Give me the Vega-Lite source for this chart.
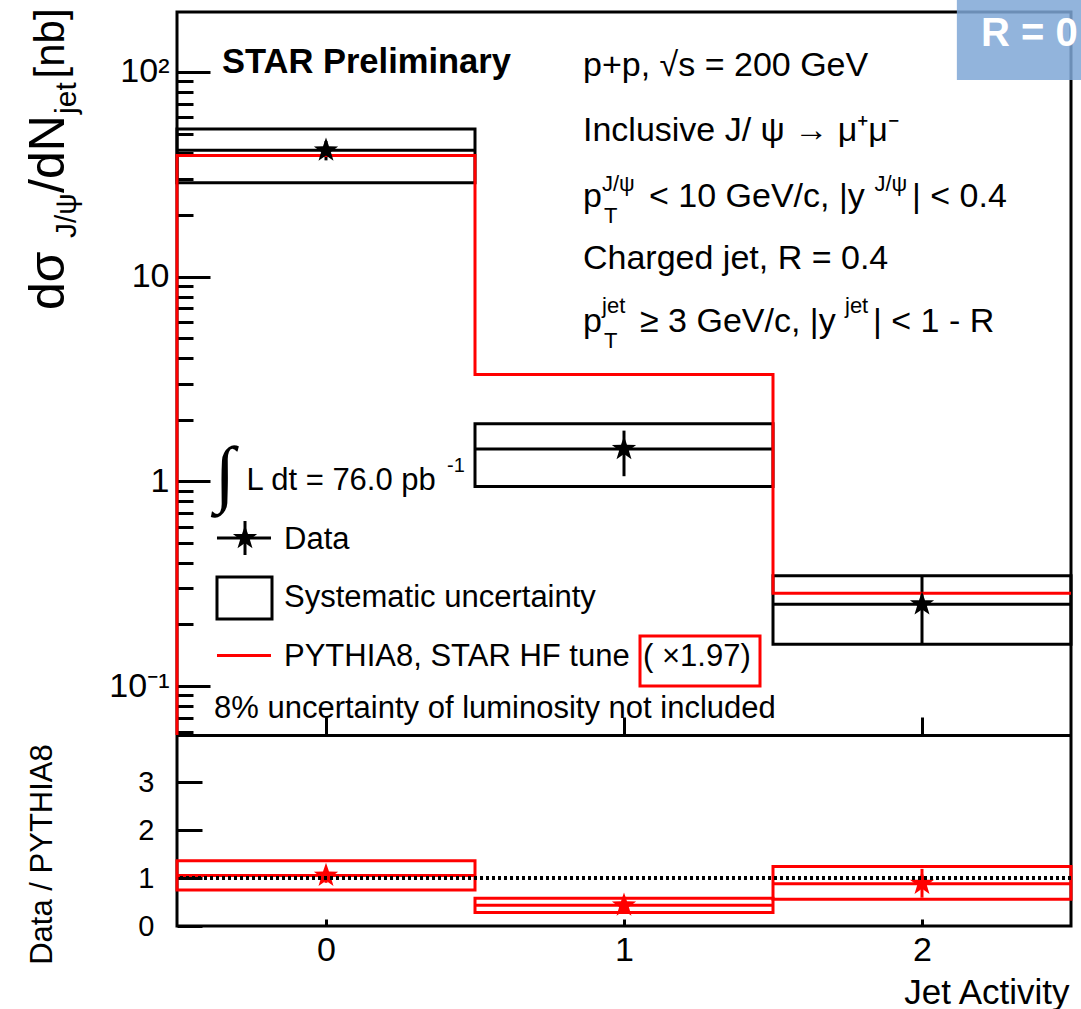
{
  "$schema": "https://vega.github.io/schema/vega-lite/v6.json",
  "width": 894,
  "height": 914,
  "autosize": "none",
  "padding": {"left": 177, "top": 12, "right": 10, "bottom": 83},
  "background": "white",
  "config": {
    "view": {"stroke": "black", "strokeWidth": 3},
    "font": "Liberation Sans",
    "axis": {"labelFont": "Liberation Sans", "titleFont": "Liberation Sans", "labelColor": "black", "titleColor": "black", "tickColor": "black", "domainColor": "black", "grid": false}
  },
  "datasets": {
    "bins": [
      {"bin": 0, "lo": -0.5, "hi": 0.5, "val": 41.4, "statLo": 37, "statHi": 46, "sysLo": 28.8, "sysHi": 52.6, "ratio": 1.05, "rStatLo": 0.9, "rStatHi": 1.18, "rSysLo": 0.75, "rSysHi": 1.36},
      {"bin": 1, "lo": 0.5, "hi": 1.5, "val": 1.44, "statLo": 1.06, "statHi": 1.77, "sysLo": 0.944, "sysHi": 1.91, "ratio": 0.43, "rStatLo": 0.31, "rStatHi": 0.53, "rSysLo": 0.28, "rSysHi": 0.58},
      {"bin": 2, "lo": 1.5, "hi": 2.5, "val": 0.251, "statLo": 0.16, "statHi": 0.346, "sysLo": 0.16, "sysHi": 0.346, "ratio": 0.88, "rStatLo": 0.59, "rStatHi": 1.19, "rSysLo": 0.56, "rSysHi": 1.24}
    ],
    "pythia": [
      {"i": 0, "x": -0.5, "y": 0.0577},
      {"i": 1, "x": -0.5, "y": 39.1},
      {"i": 2, "x": 0.5, "y": 3.33},
      {"i": 3, "x": 1.5, "y": 0.284},
      {"i": 4, "x": 2.5, "y": 0.284}
    ]
  },
  "resolve": {"scale": {"y": "independent"}, "axis": {"x": "independent", "y": "independent"}},
  "layer": [
    {
      "resolve": {"axis": {"x": "independent", "y": "independent"}},
      "layer": [
        {
          "data": {"name": "bins"},
          "mark": {"type": "rect", "fillOpacity": 0, "stroke": "black", "strokeWidth": 3},
          "encoding": {
            "x": {"field": "lo", "type": "quantitative", "scale": {"domain": [-0.5, 2.5], "nice": false, "zero": false},
              "axis": {"orient": "bottom", "offset": -191, "values": [0, 1, 2], "tickSize": -18, "tickWidth": 3, "labels": false, "domain": true, "domainWidth": 3, "title": null}},
            "x2": {"field": "hi"},
            "y": {"field": "sysLo", "type": "quantitative",
              "scale": {"type": "log", "domain": [0.0577, 196.3], "range": [723, 0], "nice": false, "zero": false},
              "axis": {"orient": "left", "title": null,
                "values": [0.1, 1, 10, 100],
                "labelExpr": "datum.value == 100 ? '10²' : datum.value == 10 ? '10' : datum.value == 1 ? '1' : '10⁻¹'",
                "tickSize": -33, "labelPadding": 41, "labelFontSize": 34, "tickWidth": 3, "domain": false, "labelOverlap": false, "labelBound": false, "labelFlush": false}},
            "y2": {"field": "sysHi"}
          }
        },
        {
          "data": {"name": "bins"},
          "mark": {"type": "rule", "color": "black", "strokeWidth": 3},
          "encoding": {
            "x": {"field": "lo", "type": "quantitative", "axis": null},
            "x2": {"field": "hi"},
            "y": {"field": "val", "type": "quantitative",
              "axis": {"orient": "left", "title": null,
                "values": [0.06, 0.07, 0.08, 0.09, 0.2, 0.3, 0.4, 0.5, 0.6, 0.7, 0.8, 0.9, 2, 3, 4, 5, 6, 7, 8, 9, 20, 30, 40, 50, 60, 70, 80, 90],
                "labels": false, "tickSize": -16, "tickWidth": 3, "domain": false}}
          }
        },
        {
          "data": {"name": "bins"},
          "mark": {"type": "rule", "color": "black", "strokeWidth": 3},
          "encoding": {
            "x": {"field": "bin", "type": "quantitative", "axis": null},
            "y": {"field": "statLo", "type": "quantitative", "axis": null},
            "y2": {"field": "statHi"}
          }
        },
        {
          "data": {"name": "pythia"},
          "mark": {"type": "line", "color": "#ff0000", "strokeWidth": 3, "interpolate": "step-after"},
          "encoding": {
            "x": {"field": "x", "type": "quantitative", "axis": null},
            "y": {"field": "y", "type": "quantitative", "axis": null},
            "order": {"field": "i", "type": "quantitative"}
          }
        },
        {
          "data": {"name": "bins"},
          "mark": {"type": "point", "shape": "M0,-1L0.235,-0.324L0.951,-0.309L0.38,0.124L0.588,0.809L0,0.4L-0.588,0.809L-0.38,0.124L-0.951,-0.309L-0.235,-0.324Z", "filled": true, "color": "black", "size": 650, "opacity": 1},
          "encoding": {
            "x": {"field": "bin", "type": "quantitative", "axis": null},
            "y": {"field": "val", "type": "quantitative", "axis": null}
          }
        },
        {
          "data": {"values": [{"x": -0.3658, "x2": -0.1812, "y": 0.2127, "y2": 0.3412}]},
          "mark": {"type": "rect", "fillOpacity": 0, "stroke": "black", "strokeWidth": 3},
          "encoding": {
            "x": {"field": "x", "type": "quantitative", "axis": null}, "x2": {"field": "x2"},
            "y": {"field": "y", "type": "quantitative", "axis": null}, "y2": {"field": "y2"}
          }
        },
        {
          "data": {"values": [{"x": 1.0537, "x2": 1.4564, "y": 0.1001, "y2": 0.1757}]},
          "mark": {"type": "rect", "fillOpacity": 0, "stroke": "#ff0000", "strokeWidth": 3},
          "encoding": {
            "x": {"field": "x", "type": "quantitative", "axis": null}, "x2": {"field": "x2"},
            "y": {"field": "y", "type": "quantitative", "axis": null}, "y2": {"field": "y2"}
          }
        },
        {
          "data": {"values": [{"x": -0.3658, "x2": -0.1846, "y": 0.529}]},
          "mark": {"type": "rule", "color": "black", "strokeWidth": 3},
          "encoding": {
            "x": {"field": "x", "type": "quantitative", "axis": null}, "x2": {"field": "x2"},
            "y": {"field": "y", "type": "quantitative", "axis": null}
          }
        },
        {
          "data": {"values": [{"x": -0.2718, "y": 0.4369, "y2": 0.6405}]},
          "mark": {"type": "rule", "color": "black", "strokeWidth": 3},
          "encoding": {
            "x": {"field": "x", "type": "quantitative", "axis": null},
            "y": {"field": "y", "type": "quantitative", "axis": null}, "y2": {"field": "y2"}
          }
        },
        {
          "data": {"values": [{"x": -0.2718, "y": 0.529}]},
          "mark": {"type": "point", "shape": "M0,-1L0.235,-0.324L0.951,-0.309L0.38,0.124L0.588,0.809L0,0.4L-0.588,0.809L-0.38,0.124L-0.951,-0.309L-0.235,-0.324Z", "filled": true, "color": "black", "size": 650, "opacity": 1},
          "encoding": {
            "x": {"field": "x", "type": "quantitative", "axis": null},
            "y": {"field": "y", "type": "quantitative", "axis": null}
          }
        },
        {
          "data": {"values": [{"x": -0.3658, "x2": -0.1846, "y": 0.1411}]},
          "mark": {"type": "rule", "color": "#ff0000", "strokeWidth": 3},
          "encoding": {
            "x": {"field": "x", "type": "quantitative", "axis": null}, "x2": {"field": "x2"},
            "y": {"field": "y", "type": "quantitative", "axis": null}
          }
        },
        {
          "data": {"values": [{"x": -0.3490, "y": 110.7, "t": "STAR Preliminary"}]},
          "mark": {"type": "text", "align": "left", "baseline": "middle", "fontSize": 34.5, "fontWeight": "bold", "color": "black"},
          "encoding": {
            "x": {"field": "x", "type": "quantitative", "axis": null},
            "y": {"field": "y", "type": "quantitative", "axis": null},
            "text": {"field": "t"}
          }
        },
        {
          "data": {"values": [
            {"x": 0.8624, "y": 106.98, "t": "p+p,  √s = 200 GeV"},
            {"x": 0.8624, "y": 51.5, "t": "Inclusive J/ ψ → μ⁺μ⁻"},
            {"x": 0.8624, "y": 24.5, "t": "p"},
            {"x": 1.0839, "y": 24.5, "t": "< 10 GeV/c, |y"},
            {"x": 1.9664, "y": 24.5, "t": "| < 0.4"},
            {"x": 0.8624, "y": 12.2, "t": "Charged jet, R = 0.4"},
            {"x": 0.8624, "y": 6.008, "t": "p"},
            {"x": 1.0537, "y": 6.008, "t": "≥ 3 GeV/c, |y"},
            {"x": 1.8356, "y": 6.008, "t": "| < 1 - R"}
          ]},
          "mark": {"type": "text", "align": "left", "baseline": "middle", "fontSize": 34, "color": "black"},
          "encoding": {
            "x": {"field": "x", "type": "quantitative", "axis": null},
            "y": {"field": "y", "type": "quantitative", "axis": null},
            "text": {"field": "t"}
          }
        },
        {
          "data": {"values": [
            {"x": 0.9262, "y": 28.4, "t": "J/ψ"},
            {"x": 1.8406, "y": 28.4, "t": "J/ψ"},
            {"x": 0.9329, "y": 19.8, "t": "T"},
            {"x": 0.9262, "y": 7.19, "t": "jet"},
            {"x": 1.7416, "y": 7.19, "t": "jet"},
            {"x": 0.9329, "y": 4.853, "t": "T"}
          ]},
          "mark": {"type": "text", "align": "left", "baseline": "middle", "fontSize": 22, "color": "black"},
          "encoding": {
            "x": {"field": "x", "type": "quantitative", "axis": null},
            "y": {"field": "y", "type": "quantitative", "axis": null},
            "text": {"field": "t"}
          }
        },
        {
          "data": {"values": [
            {"x": -0.2668, "y": 1.005, "t": "L dt = 76.0 pb"},
            {"x": -0.1409, "y": 0.5174, "t": "Data"},
            {"x": -0.1409, "y": 0.2694, "t": "Systematic uncertainty"},
            {"x": -0.1409, "y": 0.1387, "t": "PYTHIA8, STAR HF tune"},
            {"x": 1.0638, "y": 0.1387, "t": "( ×1.97)"},
            {"x": -0.3758, "y": 0.0773, "t": "8% uncertainty of luminosity not included"}
          ]},
          "mark": {"type": "text", "align": "left", "baseline": "middle", "fontSize": 31, "color": "black"},
          "encoding": {
            "x": {"field": "x", "type": "quantitative", "axis": null},
            "y": {"field": "y", "type": "quantitative", "axis": null},
            "text": {"field": "t"}
          }
        },
        {
          "data": {"values": [{"x": 0.406, "y": 1.19, "t": "-1"}]},
          "mark": {"type": "text", "align": "left", "baseline": "middle", "fontSize": 20, "color": "black"},
          "encoding": {
            "x": {"field": "x", "type": "quantitative", "axis": null},
            "y": {"field": "y", "type": "quantitative", "axis": null},
            "text": {"field": "t"}
          }
        },
        {
          "data": {"values": [{"x": -0.339, "y": 1.063, "t": "∫"}]},
          "mark": {"type": "text", "align": "center", "baseline": "middle", "fontSize": 74, "font": "DejaVu Sans", "fontWeight": 200, "color": "black"},
          "encoding": {
            "x": {"field": "x", "type": "quantitative", "axis": null},
            "y": {"field": "y", "type": "quantitative", "axis": null},
            "text": {"field": "t"}
          }
        },
        {
          "data": {"values": [
            {"x": -0.8792, "y": 6.876, "t": "dσ"},
            {"x": -0.8792, "y": 25.64, "t": "/dN"}
          ]},
          "mark": {"type": "text", "align": "left", "baseline": "alphabetic", "angle": 270, "fontSize": 50, "color": "black"},
          "encoding": {
            "x": {"field": "x", "type": "quantitative", "axis": null},
            "y": {"field": "y", "type": "quantitative", "axis": null},
            "text": {"field": "t"}
          }
        },
        {
          "data": {"values": [
            {"x": -0.8792, "y": 93, "t": "[nb]"}
          ]},
          "mark": {"type": "text", "align": "left", "baseline": "alphabetic", "angle": 270, "fontSize": 42, "color": "black"},
          "encoding": {
            "x": {"field": "x", "type": "quantitative", "axis": null},
            "y": {"field": "y", "type": "quantitative", "axis": null},
            "text": {"field": "t"}
          }
        },
        {
          "data": {"values": [
            {"x": -0.8389, "y": 15.45, "t": "J/ψ"},
            {"x": -0.8389, "y": 62.35, "t": "jet"}
          ]},
          "mark": {"type": "text", "align": "left", "baseline": "alphabetic", "angle": 270, "fontSize": 30, "color": "black"},
          "encoding": {
            "x": {"field": "x", "type": "quantitative", "axis": null},
            "y": {"field": "y", "type": "quantitative", "axis": null},
            "text": {"field": "t"}
          }
        },
        {
          "data": {"values": [{"x": 2.117, "x2": 2.6, "y": 91.4, "y2": 300}]},
          "mark": {"type": "rect", "fill": "#7FA7D6", "opacity": 0.85},
          "encoding": {
            "x": {"field": "x", "type": "quantitative", "axis": null}, "x2": {"field": "x2"},
            "y": {"field": "y", "type": "quantitative", "axis": null}, "y2": {"field": "y2"}
          }
        },
        {
          "data": {"values": [{"x": 2.198, "y": 153.2, "t": "R = 0"}]},
          "mark": {"type": "text", "align": "left", "baseline": "middle", "fontSize": 40, "fontWeight": "bold", "color": "white"},
          "encoding": {
            "x": {"field": "x", "type": "quantitative", "axis": null},
            "y": {"field": "y", "type": "quantitative", "axis": null},
            "text": {"field": "t"}
          }
        }
      ]
    },
    {
      "resolve": {"axis": {"x": "independent", "y": "independent"}},
      "layer": [
        {
          "data": {"name": "bins"},
          "mark": {"type": "rect", "fillOpacity": 0, "stroke": "#ff0000", "strokeWidth": 3},
          "encoding": {
            "x": {"field": "lo", "type": "quantitative", "scale": {"domain": [-0.5, 2.5], "nice": false, "zero": false},
              "axis": {"orient": "bottom", "values": [0, 1, 2], "tickSize": -7, "tickWidth": 3, "labelPadding": 14, "labelFontSize": 34, "domain": false,
                "title": "Jet Activity", "titleX": 892, "titleY": 77, "titleAlign": "right", "titleBaseline": "alphabetic", "titleFontSize": 35, "titleFontWeight": "normal", "labelFlush": false}},
            "x2": {"field": "hi"},
            "y": {"field": "rSysLo", "type": "quantitative", "scale": {"domain": [0, 3.98], "range": [914, 723], "nice": false, "zero": false},
              "axis": {"orient": "left", "values": [0, 1, 2, 3], "tickSize": -25, "tickWidth": 3, "labelPadding": 48, "labelFontSize": 29, "domain": false,
                "title": "Data / PYTHIA8", "titleAngle": 270, "titleX": -126, "titleY": 842, "titleAlign": "center", "titleBaseline": "alphabetic", "titleFontSize": 31, "titleFontWeight": "normal", "labelFlush": false}},
            "y2": {"field": "rSysHi"}
          }
        },
        {
          "data": {"name": "bins"},
          "mark": {"type": "rule", "color": "#ff0000", "strokeWidth": 3},
          "encoding": {
            "x": {"field": "lo", "type": "quantitative", "axis": null},
            "x2": {"field": "hi"},
            "y": {"field": "ratio", "type": "quantitative", "axis": null}
          }
        },
        {
          "data": {"name": "bins"},
          "mark": {"type": "rule", "color": "#ff0000", "strokeWidth": 3},
          "encoding": {
            "x": {"field": "bin", "type": "quantitative", "axis": null},
            "y": {"field": "rStatLo", "type": "quantitative", "axis": null},
            "y2": {"field": "rStatHi"}
          }
        },
        {
          "data": {"name": "bins"},
          "mark": {"type": "point", "shape": "M0,-1L0.235,-0.324L0.951,-0.309L0.38,0.124L0.588,0.809L0,0.4L-0.588,0.809L-0.38,0.124L-0.951,-0.309L-0.235,-0.324Z", "filled": true, "color": "#ff0000", "size": 650, "opacity": 1},
          "encoding": {
            "x": {"field": "bin", "type": "quantitative", "axis": null},
            "y": {"field": "ratio", "type": "quantitative", "axis": null}
          }
        },
        {
          "data": {"values": [{"ref": 1}]},
          "mark": {"type": "rule", "color": "black", "strokeWidth": 4, "strokeDash": [3, 3]},
          "encoding": {
            "y": {"field": "ref", "type": "quantitative", "axis": null}
          }
        }
      ]
    }
  ]
}
